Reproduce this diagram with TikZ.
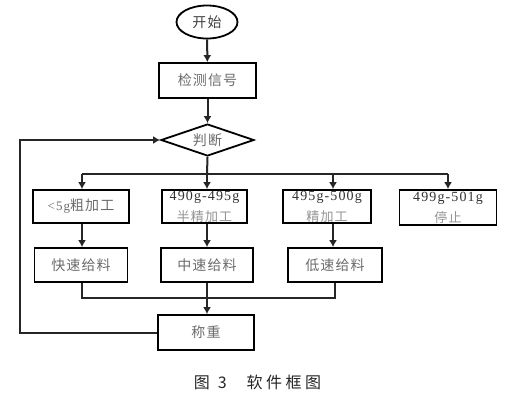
\documentclass[tikz,border=0pt]{standalone}
\usepackage{fontspec}
\setmainfont{Liberation Serif}
\newfontfamily\cjk[LetterSpace=8]{Noto Sans CJK SC}
\newfontfamily\numfont[LetterSpace=8]{Liberation Serif}
\newfontfamily\capfont[LetterSpace=22]{Noto Sans CJK SC}
\usetikzlibrary{shapes.geometric,arrows.meta}
\tikzset{
  box/.style={draw=black, line width=1.8bp, rectangle, inner sep=0pt, text=black!58,
    font=\fontsize{14bp}{16bp}\selectfont\cjk, align=center},
  twobox/.style={box, font=\fontsize{14bp}{15bp}\selectfont\numfont, text=black!80},
  conn/.style={line width=2bp, draw=black!85},
  arr/.style={conn, -{Latex[length=7bp,width=8bp]}},
}
\begin{document}
\begin{tikzpicture}[x=1bp,y=1bp]
\useasboundingbox[fill=white] (0,0) rectangle (514,-407);
% nodes
\node[ellipse, draw=black, line width=1.8bp, minimum width=61bp, minimum height=33bp, inner sep=0pt,
  font=\fontsize{14bp}{16bp}\selectfont\cjk, text=black!75] (start) at (207,-22) {开始};
\node[box, minimum width=97bp, minimum height=35bp] (detect) at (207.5,-80.5) {检测信号};
\node[diamond, aspect=2.9, draw=black, line width=1.8bp, inner sep=0pt, minimum width=93bp, minimum height=32bp,
  font=\fontsize{14bp}{16bp}\selectfont\cjk, text=black!58] (judge) at (207.5,-140) {判断};
\node[box, minimum width=96bp, minimum height=33bp, text=black!58] (b1) at (81,-206.5) {{\numfont\fontsize{13bp}{16bp}\selectfont <5g}粗加工};
\node[twobox, minimum width=85bp, minimum height=33bp] (b2) at (204.5,-206.5) {\raisebox{3bp}{490g-495g}\\[0bp]\raisebox{-3bp}{\cjk\fontsize{13bp}{15bp}\selectfont\color{black!42}半精加工}};
\node[twobox, minimum width=88bp, minimum height=33bp] (b3) at (327,-206.5) {\raisebox{3bp}{495g-500g}\\[0bp]\raisebox{-3bp}{\cjk\fontsize{13bp}{15bp}\selectfont\color{black!42}精加工}};
\node[twobox, minimum width=97bp, minimum height=35bp] (b4) at (448,-207.5) {\raisebox{3bp}{499g-501g}\\[0bp]\raisebox{-3bp}{\cjk\fontsize{13bp}{15bp}\selectfont\color{black!42}停止}};
\node[box, minimum width=93bp, minimum height=34bp] (c1) at (81,-265) {快速给料};
\node[box, minimum width=92bp, minimum height=34bp] (c2) at (207,-265) {中速给料};
\node[box, minimum width=94bp, minimum height=34bp] (c3) at (335,-265) {低速给料};
\node[box, minimum width=96bp, minimum height=35bp] (w) at (206,-332.5) {称重};
\node[font=\fontsize{16bp}{18bp}\selectfont\capfont, text=black!85, inner sep=0pt] (cap) at (257.5,-382) {图\hspace{8bp}3\hspace{20bp}软件框图};
% coordinates
\coordinate (jb) at (207,-174);
\coordinate (bl) at (82,-174);
\coordinate (br) at (448,-174);
\coordinate (x2) at (207,-174);
\coordinate (x3) at (333,-174);
\coordinate (ml) at (82,-298);
\coordinate (mr) at (335,-298);
\coordinate (lb) at (20,-332.5);
\coordinate (lt) at (20,-140);
% connectors
\draw[arr] (start) -- (detect);
\draw[arr] (detect) -- (judge);
\draw[conn] (judge.south) -- (jb);
\draw[conn] (bl) -- (br);
\draw[arr] (bl) -- (bl |- b1.north);
\draw[arr] (x2) -- (x2 |- b2.north);
\draw[arr] (x3) -- (x3 |- b3.north);
\draw[arr] (br) -- (br |- b4.north);
\draw[arr] (bl |- b1.south) -- (bl |- c1.north);
\draw[arr] (x2 |- b2.south) -- (x2 |- c2.north);
\draw[arr] (x3 |- b3.south) -- (x3 |- c3.north);
\draw[conn] (ml |- c1.south) -- (ml) -- (mr) -- (mr |- c3.south);
\draw[arr] (x2 |- c2.south) -- (x2 |- w.north);
\draw[arr] (w.west) -- (lb) -- (lt) -- (judge.west);
\end{tikzpicture}
\end{document}
